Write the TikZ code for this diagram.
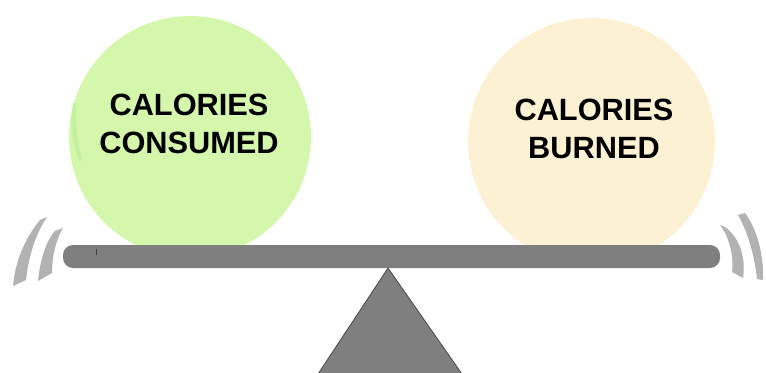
\documentclass[tikz,border=0pt]{standalone}
\usepackage{fontspec}
\setmainfont{Liberation Sans}
\usepackage{xcolor}
\usetikzlibrary{positioning}
\definecolor{swGreen}{HTML}{D4F7AC}
\definecolor{swGreenMark}{HTML}{C3F29C}
\definecolor{swCream}{HTML}{FDF1D3}
\definecolor{swBeam}{HTML}{7F7F7F}
\definecolor{swEdge}{HTML}{3F3F3F}
\definecolor{swWobble}{HTML}{B2B2B2}
\tikzset{
  sw diagram/.style={x=0.02cm, y=-0.02cm, line join=round},
  sw disc/.style={circle, draw=none, inner sep=0pt},
  sw label/.style={font=\fontsize{17.5}{21.6}\selectfont\bfseries,
    text=black, align=center, inner sep=0pt},
  sw beam/.style={fill=swBeam, rounded corners=0.2cm},
  sw stand/.style={fill=swBeam, draw=swEdge, line width=0.4pt},
  sw wobble/.style={fill=swWobble}
}
\begin{document}
\begin{tikzpicture}[sw diagram]
\useasboundingbox (0,0) rectangle (766,372);
% the two weights
\node[sw disc, fill=swGreen, minimum size=4.84cm] (consumed) at (190,137) {};
\node[sw disc, fill=swCream, minimum size=4.94cm] (burned) at (591.5,141.5) {};
\fill[swGreenMark] (73,103) .. controls (70,125) and (72,145) .. (80,162)
  -- (82,158) .. controls (76,140) and (76,120) .. (76,103) -- cycle;
\node[sw label] (consumedText) at (189,124) {CALORIES\\CONSUMED};
\node[sw label] (burnedText) at (594,128.5) {CALORIES\\BURNED};
% stand and beam
\coordinate (pivot) at (388,268);
\fill[sw stand] (pivot) -- (318,374) -- (462,374) -- cycle;
\fill[sw beam] (63,245) rectangle (720,268);
\draw[swEdge, line width=0.5pt] (96,249) -- (96,255);
% motion marks, left
\fill[sw wobble] (40,220) .. controls (25,238) and (15,262) .. (13,286)
  -- (26,280) .. controls (28,262) and (33,238) .. (47,217) -- cycle;
\fill[sw wobble] (55,231) .. controls (45,242) and (40,262) .. (38,281)
  -- (52,273) .. controls (52,258) and (55,242) .. (63,228) -- cycle;
% motion marks, right
\fill[sw wobble] (720,225) .. controls (730,238) and (734,258) .. (732,272)
  -- (743,278) .. controls (746,258) and (740,238) .. (725,227) -- cycle;
\fill[sw wobble] (738,215) .. controls (748,232) and (755,258) .. (757,279)
  -- (763,280) .. controls (764,258) and (758,230) .. (745,213) -- cycle;
\end{tikzpicture}
\end{document}
